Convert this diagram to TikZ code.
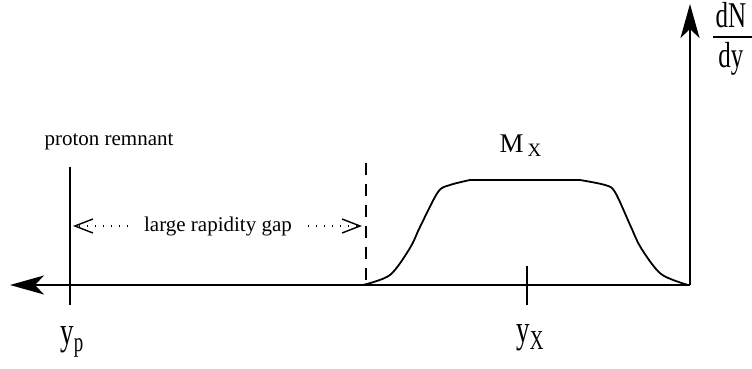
\documentclass[tikz,border=0pt]{standalone}
\usepackage{fontspec}
\setmainfont{Liberation Serif}
\usepackage{graphicx}
\usetikzlibrary{arrows.meta, positioning}
\tikzset{
  % assi del grafico
  axis/.style={line width=1pt, -{Stealth[length=17pt, width=9.5pt, inset=4.5pt]}},
  % linee verticali di riferimento
  refline/.style={line width=0.8pt},
  gapline/.style={line width=0.8pt, dash pattern=on 6pt off 4.5pt},
  % distribuzione dN/dy
  peak/.style={line width=0.9pt, line join=round},
  % freccia del gap
  gaparrow/.style={line width=0.7pt, dash pattern=on 0.6pt off 3.4pt,
    -{Straight Barb[length=9pt, width=7pt]}},
  % etichette
  lbl/.style={font=\fontsize{10.5}{12}\selectfont, inner sep=0pt},
  biglbl/.style={font=\fontsize{13.5}{15}\selectfont, inner sep=0pt},
  fraclbl/.style={font=\fontsize{12.5}{14}\selectfont, inner sep=0pt, anchor=base},
}

\begin{document}
\begin{tikzpicture}[x=0.5pt, y=-0.5pt]
  \useasboundingbox (0,0) rectangle (752,369);
  \coordinate (O) at (690,285);
  \coordinate (axL) at (10,285);
  \coordinate (axT) at (690,4);
  \draw[axis] (O) -- (axL);
  \draw[axis] (O) -- (axT);
  \node[fraclbl] (dN) at (731,28) {\scalebox{1}[1.45]{dN}};
  \node[fraclbl] (dy) at (731,68) {\scalebox{1}[1.45]{dy}};
  \coordinate (fracL) at (713,37); \coordinate (fracR) at (752,37);
  \draw[line width=0.8pt] (fracL) -- (fracR);
  \coordinate (pTop) at (70,167); \coordinate (pBot) at (70,305);
  \draw[refline] (pTop) -- (pBot);
  \node[lbl] (remn) at (109,142) {proton remnant};
  \node[biglbl, anchor=base west] (yp) at (60,345) {\scalebox{1}[1.45]{y\textsubscript{p}}};
  \coordinate (dTop) at (366,163); \coordinate (dBot) at (366,285);
  \draw[gapline] (dTop) -- (dBot);
  \node[lbl, inner xsep=8pt] (gap) at (218,226) {large rapidity gap};
  \coordinate (gapL) at (73,226); \coordinate (gapR) at (362,226);
  \draw[gaparrow] (gap) -- (gapL);
  \draw[gaparrow] (gap) -- (gapR);
  \draw[peak] plot[smooth, tension=0.5] coordinates {(363,285) (390,275) (410,248) (420,227) (438,192) (450,185) (470,180)}
    -- plot[smooth, tension=0.5] coordinates {(580,180) (605,185) (615,192) (631,227) (641,248) (661,274) (688,285)};
  \node[biglbl] (mx) at (521,146) {M\kern2pt\textsubscript{X}};
  \coordinate (xTop) at (527,266); \coordinate (xBot) at (527,305);
  \draw[refline] (xTop) -- (xBot);
  \node[biglbl, anchor=base west] (yx) at (516,343) {\scalebox{1}[1.45]{y\textsubscript{X}}};
\end{tikzpicture}
\end{document}
